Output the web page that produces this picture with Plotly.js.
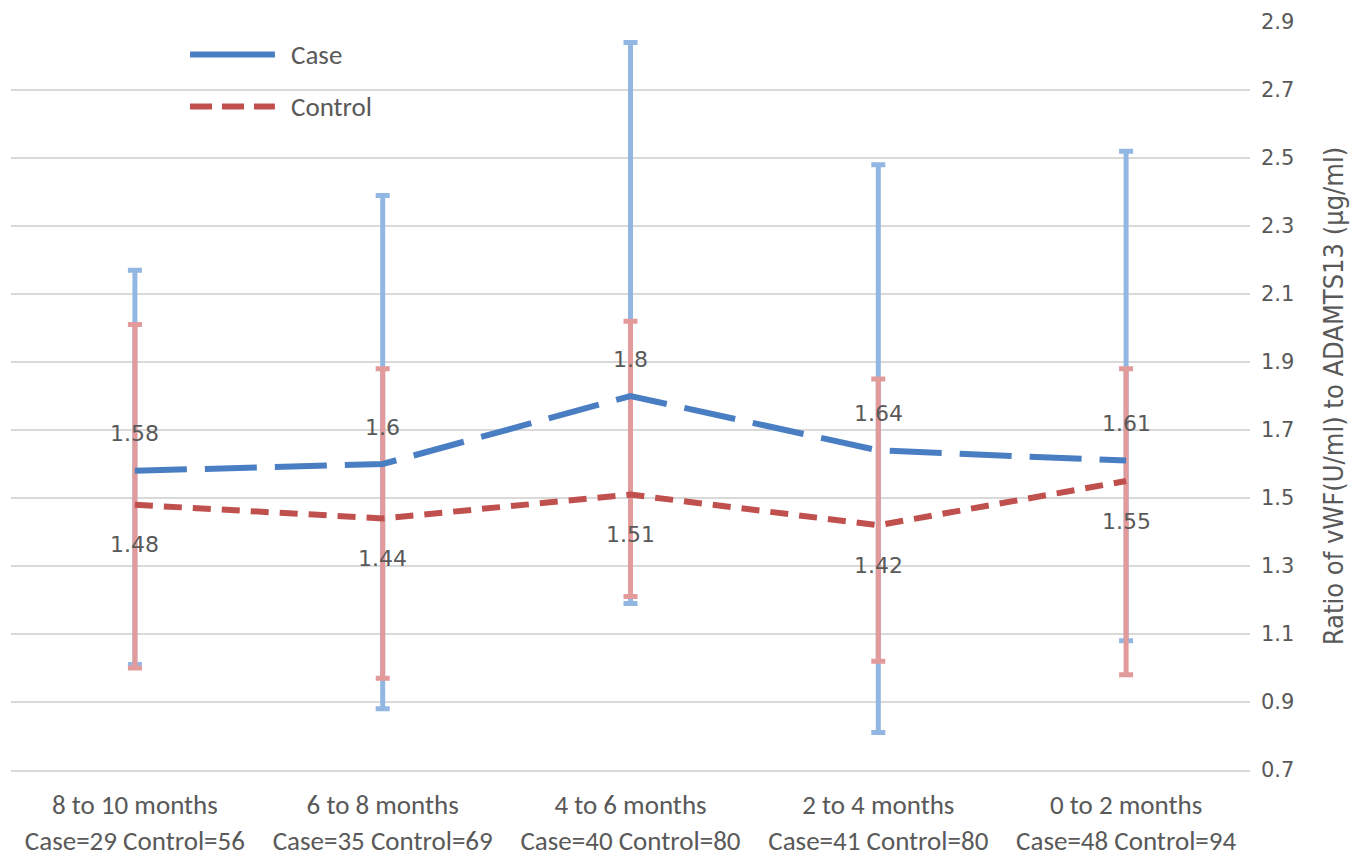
<!DOCTYPE html>
<html>
<head>
<meta charset="utf-8">
<script src="https://cdn.plot.ly/plotly-3.0.1.min.js"></script>
<style>html,body{margin:0;padding:0;background:#fff;}#chart{width:1368px;height:856px;}</style>
</head>
<body>
<div id="chart"></div>
<script>
const categories = [
  "8 to 10 months<br>Case=29 Control=56",
  "6 to 8 months<br>Case=35 Control=69",
  "4 to 6 months<br>Case=40 Control=80",
  "2 to 4 months<br>Case=41 Control=80",
  "0 to 2 months<br>Case=48 Control=94"
];
const caseMean = [1.58, 1.6, 1.8, 1.64, 1.61];
const caseUpper = [2.17, 2.39, 2.84, 2.48, 2.52];
const caseLower = [1.01, 0.88, 1.19, 0.81, 1.08];
const controlMean = [1.48, 1.44, 1.51, 1.42, 1.55];
const controlUpper = [2.01, 1.88, 2.02, 1.85, 1.88];
const controlLower = [1.00, 0.97, 1.21, 1.02, 0.98];
const yTicks = [0.7, 0.9, 1.1, 1.3, 1.5, 1.7, 1.9, 2.1, 2.3, 2.5, 2.7, 2.9];

const caseColor = "#4A7EC3", controlColor = "#C0504D";
const caseBar = "#93B7E3", controlBar = "#E29A9A";
const labelFont = {family: "DejaVu Sans, Verdana, sans-serif", size: 22, color: "#595959"};
const calibriLike = "Carlito, Lato, sans-serif";

function errTrace(mean, up, lo, color) {
  return {
    x: categories, y: mean, type: "scatter", mode: "markers",
    marker: {size: 1, opacity: 0}, showlegend: false, hoverinfo: "skip",
    error_y: {type: "data", symmetric: false,
      array: up.map((u, i) => u - mean[i]),
      arrayminus: lo.map((l, i) => mean[i] - l),
      color: color, thickness: 5, width: 7}
  };
}

const traces = [
  errTrace(caseMean, caseUpper, caseLower, caseBar),
  errTrace(controlMean, controlUpper, controlLower, controlBar),
  {x: categories, y: caseMean, type: "scatter", mode: "lines", name: "Case",
   line: {color: caseColor, width: 6, dash: "52px,18px"}, showlegend: false},
  {x: categories, y: controlMean, type: "scatter", mode: "lines", name: "Control",
   line: {color: controlColor, width: 6, dash: "18px,11px"}, showlegend: false}
];

const annotations = [];
categories.forEach((c, i) => {
  annotations.push({x: c, y: caseMean[i], text: String(caseMean[i]), showarrow: false,
    yshift: 37, font: labelFont});
  annotations.push({x: c, y: controlMean[i], text: String(controlMean[i]), showarrow: false,
    yshift: -40, font: labelFont});
});
// legend (manual)
const legendItems = [
  {name: "Case", color: caseColor, dash: "solid", y: 0.9565},
  {name: "Control", color: controlColor, dash: "22px,10px", y: 0.887}
];
const shapes = [];
legendItems.forEach(it => {
  shapes.push({type: "line", xref: "paper", yref: "paper", x0: 0.1445, x1: 0.213,
    y0: it.y, y1: it.y, line: {color: it.color, width: 6, dash: it.dash}});
  annotations.push({xref: "paper", yref: "paper", x: 0.224, y: it.y, xanchor: "left",
    yanchor: "middle", text: it.name, showarrow: false,
    font: {family: calibriLike, size: 27, color: "#595959"}});
});

const layout = {
  width: 1368, height: 856,
  margin: {l: 11, r: 118, t: 22, b: 86},
  paper_bgcolor: "#fff", plot_bgcolor: "#fff",
  showlegend: false,
  xaxis: {type: "category", range: [-0.5, 4.5], showgrid: false, zeroline: false,
    showline: true, linecolor: "#D9D9D9", linewidth: 2, ticks: "",
    ticklabelstandoff: 10,
    tickfont: {family: calibriLike, size: 27, color: "#595959"}},
  yaxis: {side: "right", range: [0.7, 2.9], tickvals: yTicks,
    ticktext: yTicks.map(v => v.toFixed(1)),
    showgrid: true, gridcolor: "#D9D9D9", gridwidth: 2, zeroline: false, showline: false,
    ticks: "", ticklabelstandoff: 10,
    tickfont: {family: "DejaVu Sans, Verdana, sans-serif", size: 21, color: "#595959"},
    title: {text: "Ratio of vWF(U/ml) to ADAMTS13 (μg/ml)", standoff: 30,
      font: {family: "DejaVu Sans Condensed, DejaVu Sans, sans-serif", size: 27, color: "#595959"}}},
  annotations: annotations,
  shapes: shapes
};
Plotly.newPlot("chart", traces, layout, {displayModeBar: false, staticPlot: true});
</script>
</body>
</html>
